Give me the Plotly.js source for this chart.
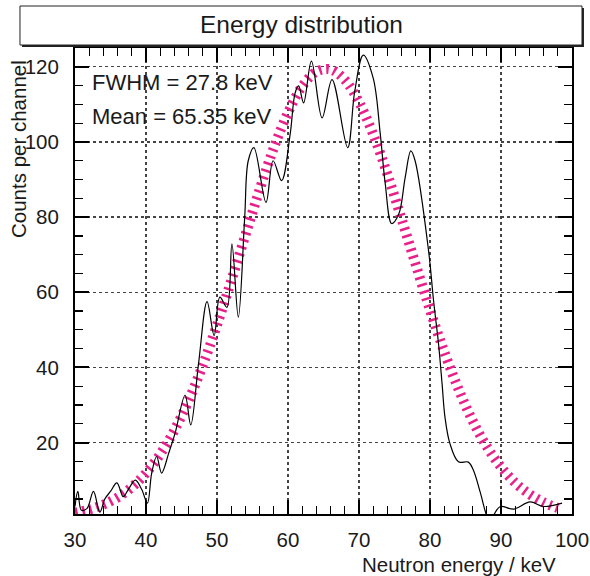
<!DOCTYPE html>
<html>
<head>
<meta charset="utf-8">
<script src="https://cdn.plot.ly/plotly-3.0.1.min.js"></script>
<style>html,body{margin:0;padding:0;background:#fff;}#chart{width:590px;height:576px;}</style>
</head>
<body>
<div id="chart"></div>
<script>
// Measured spectrum (black curve)
const energy = [30.0,30.4,30.9,31.7,32.6,33.5,34.2,35.0,35.9,36.8,37.5,38.5,39.4,40.2,40.8,41.5,42.2,43.2,44.1,45.5,46.3,47.4,48.6,49.6,50.4,51.4,52.1,53.0,53.9,54.4,55.2,56.9,57.9,59.1,60.3,61.0,61.5,62.2,63.3,64.8,66.2,68.4,69.4,70.6,72.0,73.0,73.7,74.6,75.6,76.5,77.3,77.9,79.8,80.5,81.2,81.7,82.1,82.8,84.0,85.4,86.1,87.1,88.0,88.5,89.0,89.9,91.8,94.1,96.0,98.6];
const counts = [3,7,2,2.5,7,1.5,5,7,9.3,5.6,7.5,10,7.5,3.9,11.9,16.3,11.9,17.2,22.5,32.6,24.7,41,57.5,48.5,58.7,56,72.9,53.4,79.9,95,98.5,83.9,95,89.7,102,113,114.9,110.4,121.5,106.4,116.6,98.5,113.5,123.1,117,102,88.8,78.3,80.8,90.5,97.6,95,71,57.8,46.3,35.7,26.9,19.8,14.9,14.8,12.7,6.6,0.5,-1,0.8,3.0,2.3,4.2,3.0,3.9];

// Gaussian fit curve (magenta)
const fitEnergy = [30,32,34,36,38,40,42,44,46,48,50,52,54,56,58,60,62,64,66,68,70,72,74,76,78,80,82,84,86,88,90,92,94,96,98];
const fitCounts = [1.35,2.2,3.5,5.4,8.15,11.9,16.9,23.3,31.2,40.6,51.3,63.0,75.2,87.3,98.4,107.8,114.8,118.7,119.3,116.5,110.6,102.0,91.4,79.5,67.3,55.3,44.2,34.3,25.8,18.9,13.5,9.3,6.3,4.1,2.6];

const xTickVals = [30,40,50,60,70,80,90,100];
const yTickVals = [20,40,60,80,100,120];

const chartTitle = 'Energy distribution';
const xTitle = 'Neutron energy / keV';
const yTitle = 'Counts per channel';
const fwhmText = 'FWHM = 27.8 keV';
const meanText = 'Mean = 65.35 keV';

const FONT = 'Liberation Sans, Arial, Helvetica, sans-serif';

const traces = [
  {
    x: fitEnergy, y: fitCounts, type: 'scatter', mode: 'lines',
    line: {color: '#e8208c', width: 10, dash: '2.5px,4.8px', shape: 'spline'},
    hoverinfo: 'skip', showlegend: false
  },
  {
    x: energy, y: counts, type: 'scatter', mode: 'lines',
    line: {color: '#000', width: 1.2, shape: 'spline', smoothing: 1},
    showlegend: false
  }
];

const axisCommon = {
  showline: true, linecolor: '#000', linewidth: 2, mirror: 'allticks',
  ticks: 'inside', ticklen: 14, tickwidth: 2, tickcolor: '#000',
  showgrid: true, gridcolor: '#444', gridwidth: 1.3, griddash: 'dot',
  zeroline: false,
  tickfont: {family: FONT, size: 20.5, color: '#1a1a1a'}
};

const layout = {
  width: 590, height: 576,
  margin: {l: 75, r: 18, t: 48, b: 62},
  paper_bgcolor: '#fff', plot_bgcolor: '#fff',
  font: {family: FONT, color: '#1a1a1a'},
  title: {text: chartTitle, x: 0.511, xanchor: 'center', y: 0.957, yanchor: 'middle',
          font: {family: FONT, size: 24.5, color: '#1a1a1a'}},
  xaxis: Object.assign({}, axisCommon, {
    range: [30, 100], tickvals: xTickVals, ticktext: xTickVals.map(String),
    minor: {dtick: 2, tick0: 30, ticks: 'inside', ticklen: 8, tickwidth: 1.2, tickcolor: '#000', showgrid: false},
    ticklabelstandoff: 6
  }),
  yaxis: Object.assign({}, axisCommon, {
    range: [1, 125], tickvals: yTickVals, ticktext: yTickVals.map(String),
    minor: {dtick: 5, tick0: 0, ticks: 'inside', ticklen: 8, tickwidth: 1.2, tickcolor: '#000', showgrid: false},
    ticklabelstandoff: 10
  }),
  shapes: [
    {type: 'rect', xref: 'paper', yref: 'paper', x0: -0.1066, x1: 1.0241, y0: 1.0021, y1: 1.0858,
     fillcolor: '#222', line: {width: 0}, layer: 'above'},
    {type: 'rect', xref: 'paper', yref: 'paper', x0: -0.1107, x1: 1.0201, y0: 1.0064, y1: 1.0901,
     fillcolor: '#fff', line: {color: '#222', width: 1}, layer: 'above'}
  ],
  annotations: [
    {text: fwhmText, xref: 'paper', yref: 'paper', x: 0.030, y: 0.9255, xanchor: 'left', yanchor: 'middle',
     showarrow: false, font: {family: FONT, size: 22, color: '#1a1a1a'}},
    {text: meanText, xref: 'paper', yref: 'paper', x: 0.030, y: 0.854, xanchor: 'left', yanchor: 'middle',
     showarrow: false, font: {family: FONT, size: 22, color: '#1a1a1a'}},
    {text: xTitle, xref: 'paper', yref: 'paper', x: 0.9718, y: -0.1094, xanchor: 'right', yanchor: 'middle',
     showarrow: false, font: {family: FONT, size: 20.5, color: '#1a1a1a'}},
    {text: yTitle, xref: 'paper', yref: 'paper', x: -0.1147, y: 0.9785, xanchor: 'center', yanchor: 'top',
     textangle: -90, showarrow: false, font: {family: FONT, size: 20.5, color: '#1a1a1a'}}
  ]
};

Plotly.newPlot('chart', traces, layout, {displayModeBar: false, staticPlot: true});
</script>
</body>
</html>
